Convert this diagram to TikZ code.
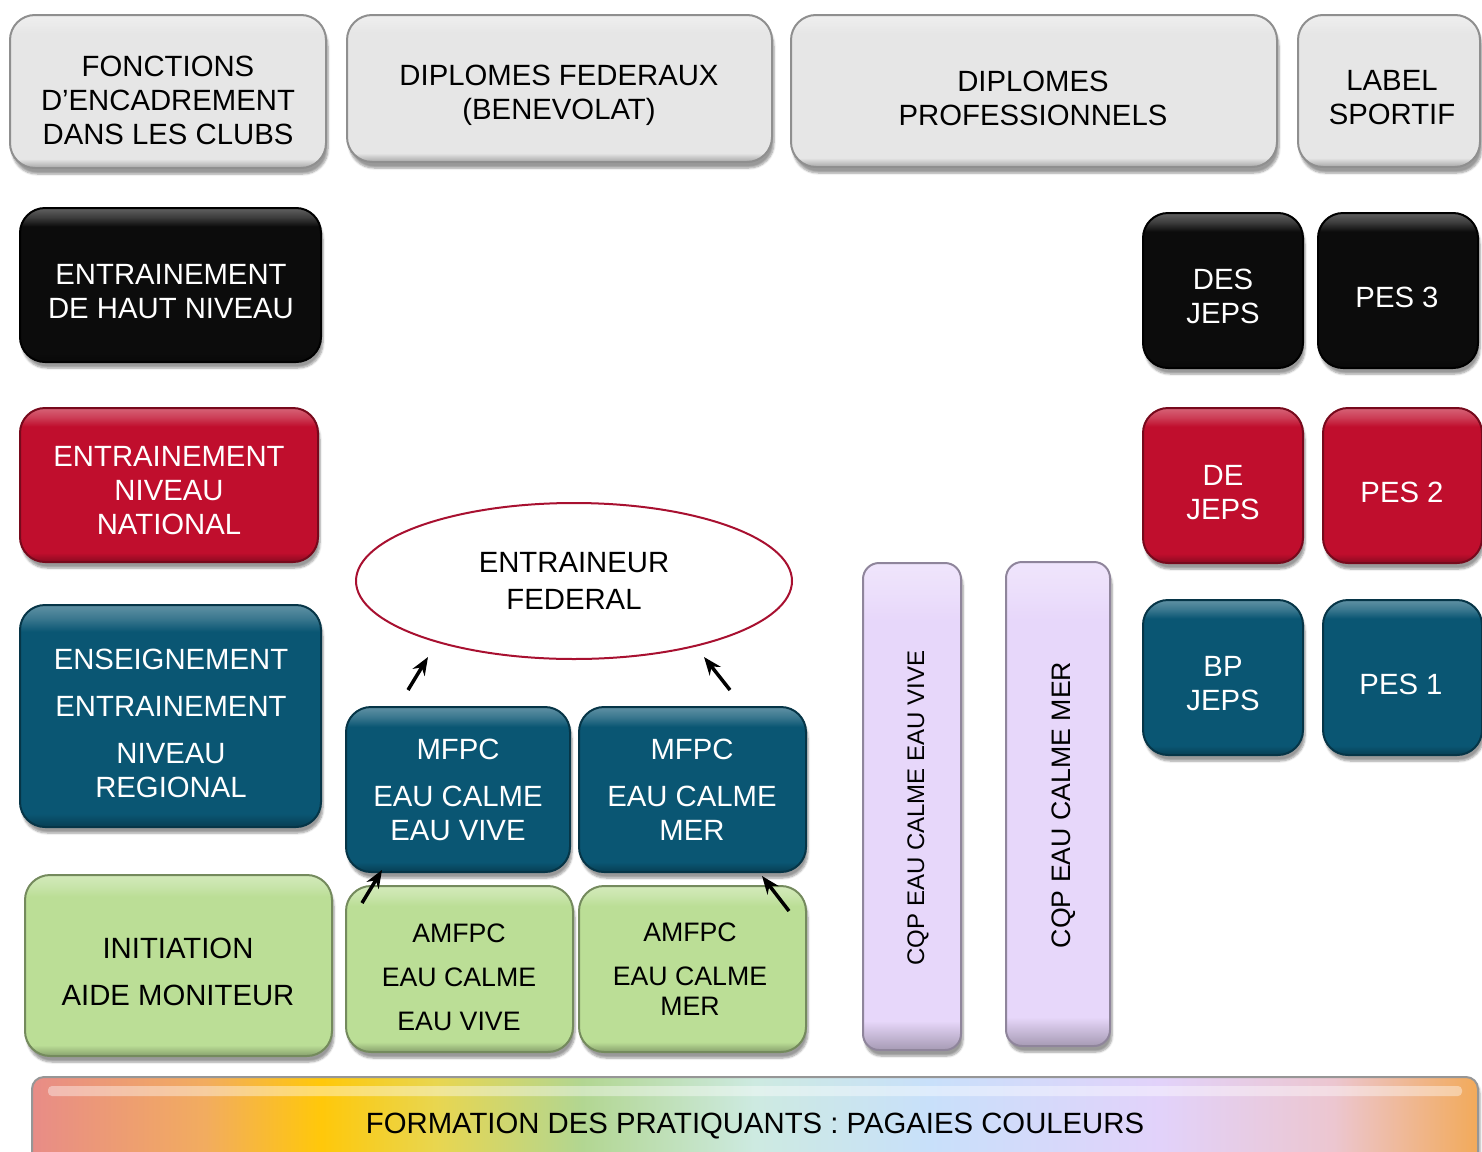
\documentclass[tikz,border=0pt]{standalone}
\usepackage{fontspec}
\setmainfont{Liberation Sans}
\usetikzlibrary{shapes.geometric,arrows.meta,shadows.blur}

\definecolor{headfill}{RGB}{230,230,230}
\definecolor{blackfill}{RGB}{12,12,12}
\definecolor{redfill}{RGB}{192,14,45}
\definecolor{tealfill}{RGB}{10,86,115}
\definecolor{greenfill}{RGB}{187,222,150}
\definecolor{lilacfill}{RGB}{231,215,250}
\definecolor{ellred}{RGB}{168,16,48}
\definecolor{baredge}{RGB}{150,150,150}
\definecolor{p1}{RGB}{232,140,135}
\definecolor{p2}{RGB}{242,172,95}
\definecolor{p3}{RGB}{255,200,10}
\definecolor{p4}{RGB}{232,214,80}
\definecolor{p5}{RGB}{178,214,145}
\definecolor{p6}{RGB}{205,234,225}
\definecolor{p7}{RGB}{200,224,250}
\definecolor{p8}{RGB}{226,210,250}
\definecolor{p9}{RGB}{236,198,208}
\definecolor{p10}{RGB}{242,170,90}
\colorlet{tilebase}{headfill}
% rainbow of the paddle grades
\pgfdeclarehorizontalshading{pagaies}{100bp}{color(0bp)=(p1); color(25bp)=(p1); color(31bp)=(p2); color(35bp)=(p3); color(39bp)=(p4); color(44bp)=(p5); color(50bp)=(p6); color(56bp)=(p7); color(64bp)=(p8); color(70bp)=(p9); color(75bp)=(p10); color(100bp)=(p10)}
% bevelled face of a tile
\pgfdeclareverticalshading[tilebase]{tileshade}{100bp}{color(0bp)=(tilebase!72!black); color(25bp)=(tilebase!72!black); color(28bp)=(tilebase); color(69bp)=(tilebase); color(72bp)=(tilebase!80!white); color(75bp)=(tilebase!65!white); color(100bp)=(tilebase!65!white)}

\begin{document}
\begin{tikzpicture}[x=1pt,y=1pt,yscale=-1,
    tile/.style={/utils/exec={\colorlet{tilebase}{#1}}, shade, shading=tileshade, draw=#1!62!black,
        rounded corners=25pt, line width=2pt, inner sep=0pt,
        blur shadow={shadow xshift=2pt, shadow yshift=-6pt, shadow blur steps=6, shadow opacity=40}},
    headtile/.style={tile=headfill},
    blacktile/.style={tile=blackfill, draw=black},
    redtile/.style={tile=redfill},
    tealtile/.style={tile=tealfill},
    greentile/.style={tile=greenfill},
    lilactile/.style={tile=lilacfill, rounded corners=16pt},
    lab/.style={align=center, inner sep=0pt, font=\fontsize{29.3}{34}\selectfont},
    smalllab/.style={lab, font=\fontsize{26.7}{31}\selectfont},
    arr/.style={-{Stealth[length=18pt,width=14pt]}, line width=3.5pt}]
    \useasboundingbox (0,0) rectangle (1482,1151);
    % header row
    \node[headtile, minimum width=316pt, minimum height=153pt] (clubs) at (168,91.5) {};
    \node[lab] (clubslab) at (168,100) {FONCTIONS\\D’ENCADREMENT\\DANS LES CLUBS};
    \node[headtile, minimum width=425pt, minimum height=147pt] (federaux) at (559.5,88.5) {};
    \node[lab] (federauxlab) at (559,95) {DIPLOMES FEDERAUX\\(BENEVOLAT)};
    \node[headtile, minimum width=486pt, minimum height=152pt] (pro) at (1034,91) {};
    \node[lab] (prolab) at (1033,98) {DIPLOMES\\PROFESSIONNELS};
    \node[headtile, minimum width=182pt, minimum height=152pt] (sportif) at (1389,91) {};
    \node[lab] (sportiflab) at (1392,98) {LABEL\\SPORTIF};
    % club functions
    \node[blacktile, minimum width=301pt, minimum height=154pt] (hautniveau) at (170.5,285) {};
    \node[lab, white] (hautniveaulab) at (171,292) {ENTRAINEMENT\\DE HAUT NIVEAU};
    \node[redtile, minimum width=298pt, minimum height=154pt] (national) at (169,485) {};
    \node[lab, white] (nationallab) at (169,491) {ENTRAINEMENT\\NIVEAU\\NATIONAL};
    \node[tealtile, minimum width=301pt, minimum height=222pt] (regional) at (170.5,716) {};
    \node[lab, white] (regionallab) at (171,723) {ENSEIGNEMENT\\[13pt]ENTRAINEMENT\\[13pt]NIVEAU\\REGIONAL};
    \node[greentile, minimum width=307pt, minimum height=181pt] (initiation) at (178.5,965.5) {};
    \node[lab] (initiationlab) at (178,971.5) {INITIATION\\[13pt]AIDE MONITEUR};
    % federal diplomas
    \node[lab, ellipse, draw=ellred, line width=2pt, fill=white, minimum width=436pt, minimum height=156pt] (federal) at (574,581) {ENTRAINEUR\\[3pt]FEDERAL};
    \node[tealtile, minimum width=224pt, minimum height=165pt] (mfpcev) at (458,789.5) {};
    \node[lab, white] (mfpcevlab) at (458,790) {MFPC\\[13pt]EAU CALME\\EAU VIVE};
    \node[tealtile, minimum width=227pt, minimum height=165pt] (mfpcmer) at (692.5,789.5) {};
    \node[lab, white] (mfpcmerlab) at (692,790) {MFPC\\[13pt]EAU CALME\\MER};
    \node[greentile, minimum width=227pt, minimum height=166pt] (amfpcev) at (459.5,969) {};
    \node[smalllab] (amfpcevlab) at (459,977) {AMFPC\\[13pt]EAU CALME\\[13pt]EAU VIVE};
    \node[greentile, minimum width=227pt, minimum height=166pt] (amfpcmer) at (692.5,969) {};
    \node[smalllab] (amfpcmerlab) at (690,969) {AMFPC\\[13pt]EAU CALME\\[-1pt]MER};
    % arrows
    \coordinate (evfrom) at (408,690);
    \coordinate (evto) at (428,657);
    \coordinate (merfrom) at (730,690);
    \coordinate (merto) at (704,657);
    \coordinate (aevfrom) at (362,903);
    \coordinate (aevto) at (382,870);
    \coordinate (amerfrom) at (789,911);
    \coordinate (amerto) at (762,876);
    \draw[arr] (evfrom) -- (evto);
    \draw[arr] (merfrom) -- (merto);
    \draw[arr] (aevfrom) -- (aevto);
    \draw[arr] (amerfrom) -- (amerto);
    % professional diplomas
    \node[lilactile, minimum width=98pt, minimum height=487pt] (cqpev) at (912,806.5) {};
    \node[lab, rotate=90, font=\fontsize{24}{28}\selectfont] (cqpevlab) at (918,808) {CQP EAU CALME EAU VIVE};
    \node[lilactile, minimum width=104pt, minimum height=484pt] (cqpmer) at (1058,804) {};
    \node[lab, rotate=90, font=\fontsize{26.7}{31}\selectfont] (cqpmerlab) at (1064,805) {CQP EAU CALME MER};
    \node[blacktile, minimum width=160pt, minimum height=155pt] (desjeps) at (1223,290.5) {};
    \node[lab, white] (desjepslab) at (1223,296.5) {DES\\JEPS};
    \node[redtile, minimum width=160pt, minimum height=155pt] (dejeps) at (1223,485.5) {};
    \node[lab, white] (dejepslab) at (1223,492.5) {DE\\JEPS};
    \node[tealtile, minimum width=160pt, minimum height=155pt] (bpjeps) at (1223,677.5) {};
    \node[lab, white] (bpjepslab) at (1223,684) {BP\\JEPS};
    % sport labels
    \node[blacktile, minimum width=160pt, minimum height=155pt] (pes3) at (1398,290.5) {};
    \node[lab, white] (pes3lab) at (1397,297) {PES 3};
    \node[redtile, minimum width=159pt, minimum height=155pt] (pes2) at (1402.5,485.5) {};
    \node[lab, white] (pes2lab) at (1402,492) {PES 2};
    \node[tealtile, minimum width=159pt, minimum height=155pt] (pes1) at (1402.5,677.5) {};
    \node[lab, white] (pes1lab) at (1401,684) {PES 1};
    % practitioners
    \node[lab, draw=baredge, line width=2pt, rounded corners=12pt, shade, shading=pagaies,
        blur shadow={shadow xshift=2pt, shadow yshift=-4pt, shadow opacity=35},
        minimum width=1446pt, minimum height=100pt] (pagaies) at (755,1127) {};
    \fill[white, opacity=.4, rounded corners=4pt] (48,1086) rectangle (1462,1096);
    \node[lab] (pagaieslab) at (755,1126) {FORMATION DES PRATIQUANTS : PAGAIES COULEURS};
\end{tikzpicture}
\end{document}
